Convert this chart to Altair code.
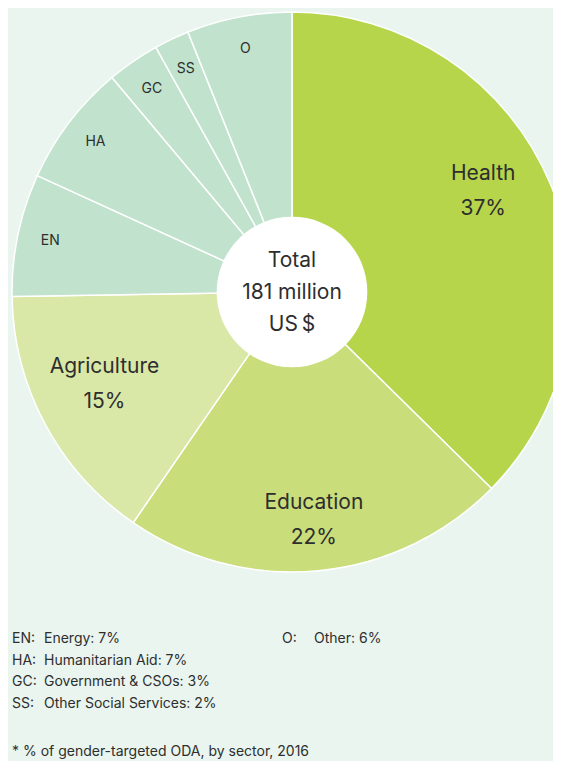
import math
import altair as alt
import pandas as pd

# ---- data ----
sectors = ["Health", "Education", "Agriculture", "EN", "HA", "GC", "SS", "O"]
shares = [37, 22, 15, 7, 7, 3, 2, 6]
major = ["Health", "Education", "Agriculture"]
slice_colors = ["#b7d54b", "#c9dd7a", "#d9e8a7", "#c1e2cc", "#c1e2cc", "#c1e2cc", "#c1e2cc", "#c1e2cc"]

legend_codes = ["EN", "HA", "GC", "SS", "O"]
legend_names = ["Energy", "Humanitarian Aid", "Government & CSOs", "Other Social Services", "Other"]
legend_values = [7, 7, 3, 2, 6]

center_text = "Total\n181 million\nUS\u202f$"
footnote = "* % of gender-targeted ODA, by sector, 2016"

# label placement (radius px, angle offset deg) for the big labels
big_label_place = {"Health": (216, -5), "Education": (230, 0), "Agriculture": (209, 2)}

BG = "#e9f5ee"
TXT = "#2e2e2e"
FONT = "Inter"
CX, CY = 284, 284

pie_df = pd.DataFrame({
    "sector": sectors,
    "share": shares,
    "idx": list(range(len(sectors))),
})
for s, v in zip(sectors, shares):
    pie_df["lab_" + s] = [f"{s}\n{v}%" if t == s else "" for t in sectors]
pie_df["small"] = [s if s not in major else "" for s in sectors]

theta = alt.Theta("share:Q", stack=True)
order = alt.Order("idx:Q")
base = alt.Chart(pie_df).encode(theta=theta, order=order,
                                x=alt.value(CX), y=alt.value(CY))

arcs = base.mark_arc(outerRadius=280, stroke="white", strokeWidth=1.5).encode(
    color=alt.Color("sector:N", scale=alt.Scale(domain=sectors, range=slice_colors), legend=None)
)

big_layers = []
for s in major:
    r, off = big_label_place[s]
    big_layers.append(
        base.mark_text(radius=r, thetaOffset=math.radians(off), font=FONT, fontSize=21,
                       color=TXT, lineBreak="\n", lineHeight=35, align="center",
                       baseline="middle", dy=-17.5).encode(text=f"lab_{s}:N")
    )

small_text = base.mark_text(radius=247, font=FONT, fontSize=14, color=TXT,
                            align="center", baseline="middle").encode(text="small:N")

hole = alt.Chart(pd.DataFrame({"t": [center_text]})).mark_circle(
    size=math.pi * 85 * 85, color="white", opacity=1
).encode(x=alt.value(CX), y=alt.value(CY))

center = alt.Chart(pd.DataFrame({"t": [center_text]})).mark_text(
    font=FONT, fontSize=21, color=TXT, lineBreak="\n", lineHeight=32,
    align="center", baseline="middle", dy=-31
).encode(x=alt.value(CX), y=alt.value(CY), text="t:N")

leg_df = pd.DataFrame({
    "code": [c + ":" for c in legend_codes],
    "desc": [f"{n}: {v}%" for n, v in zip(legend_names, legend_values)],
    "row": [i % 4 for i in range(len(legend_codes))],
    "col": [i // 4 for i in range(len(legend_codes))],
})

yrow = alt.Y("row:Q", scale=alt.Scale(domain=[0, 3], range=[631, 696]), axis=None)

def leg_layer(col, x_code, x_desc):
    src = alt.Chart(leg_df).transform_filter(alt.datum.col == col)
    kw = dict(font=FONT, fontSize=14, color=TXT, align="left", baseline="middle")
    return (src.mark_text(**kw).encode(x=alt.value(x_code), y=yrow, text="code:N") +
            src.mark_text(**kw).encode(x=alt.value(x_desc), y=yrow, text="desc:N"))

legend_left = leg_layer(0, 4, 36)
legend_right = leg_layer(1, 274, 306)

foot = alt.Chart(pd.DataFrame({"t": [footnote]})).mark_text(
    font=FONT, fontSize=14, color=TXT, align="left", baseline="alphabetic"
).encode(x=alt.value(4), y=alt.value(748), text="t:N")

chart = alt.layer(arcs, hole, center, *big_layers, small_text,
                  legend_left, legend_right, foot).properties(
    width=545, height=753, padding=0,
    autosize=alt.AutoSizeParams(type="none"),
    background=BG,
).configure_view(stroke=None)

chart.save("out.html", embed_options={"renderer": "svg", "actions": False})
